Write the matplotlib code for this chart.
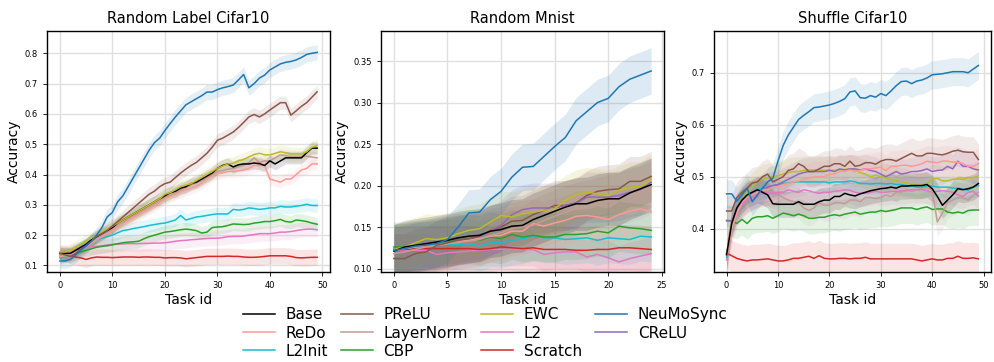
import numpy as np
import matplotlib
matplotlib.use("Agg")
import matplotlib.pyplot as plt

methods = ["Base", "ReDo", "L2Init", "PReLU", "LayerNorm", "CBP", "EWC", "L2", "Scratch", "NeuMoSync", "CReLU"]
colors = {"Base": "#000000", "ReDo": "#ff9896", "L2Init": "#17becf", "PReLU": "#8c564b",
          "LayerNorm": "#c49c94", "CBP": "#2ca02c", "EWC": "#bcbd22", "L2": "#e377c2",
          "Scratch": "#d62728", "NeuMoSync": "#1f77b4", "CReLU": "#9467bd"}

titles = ["Random Label Cifar10", "Random Mnist", "Shuffle Cifar10"]

# ---------------- Panel 1: Random Label Cifar10 (50 tasks) ----------------
rl_neumosync = [0.115, 0.115, 0.12, 0.135, 0.15, 0.165, 0.18, 0.2, 0.225, 0.26, 0.275, 0.31, 0.33, 0.36, 0.39,
                0.42, 0.45, 0.48, 0.505, 0.52, 0.545, 0.568, 0.59, 0.61, 0.63, 0.64, 0.65, 0.66, 0.672, 0.672,
                0.68, 0.686, 0.69, 0.695, 0.712, 0.73, 0.686, 0.70, 0.718, 0.728, 0.745, 0.755, 0.765, 0.77, 0.773,
                0.778, 0.786, 0.796, 0.8, 0.803]
rl_prelu = [0.14, 0.135, 0.13, 0.14, 0.155, 0.165, 0.18, 0.195, 0.205, 0.215, 0.23, 0.245, 0.26, 0.275, 0.29,
            0.305, 0.32, 0.335, 0.345, 0.36, 0.37, 0.375, 0.39, 0.405, 0.418, 0.43, 0.44, 0.455, 0.47, 0.49,
            0.513, 0.52, 0.53, 0.54, 0.555, 0.572, 0.59, 0.598, 0.59, 0.60, 0.613, 0.625, 0.637, 0.637, 0.596,
            0.61, 0.625, 0.637, 0.655, 0.673]
rl_base = [0.14, 0.14, 0.14, 0.15, 0.16, 0.17, 0.185, 0.195, 0.205, 0.215, 0.225, 0.24, 0.25, 0.26, 0.27,
           0.28, 0.29, 0.30, 0.31, 0.32, 0.33, 0.34, 0.345, 0.355, 0.36, 0.37, 0.375, 0.385, 0.395, 0.405,
           0.42, 0.43, 0.435, 0.425, 0.432, 0.435, 0.435, 0.438, 0.436, 0.43, 0.445, 0.435, 0.445, 0.455, 0.455,
           0.455, 0.455, 0.472, 0.487, 0.487]
rl_ewc = [0.145, 0.145, 0.15, 0.16, 0.17, 0.18, 0.19, 0.2, 0.21, 0.22, 0.23, 0.24, 0.25, 0.26, 0.27,
          0.28, 0.29, 0.30, 0.31, 0.32, 0.335, 0.34, 0.35, 0.36, 0.365, 0.37, 0.38, 0.39, 0.40, 0.41,
          0.42, 0.428, 0.435, 0.437, 0.445, 0.45, 0.458, 0.466, 0.47, 0.465, 0.465, 0.47, 0.475, 0.472, 0.468,
          0.468, 0.468, 0.475, 0.49, 0.495]
rl_layernorm = [0.135, 0.135, 0.14, 0.148, 0.158, 0.168, 0.18, 0.19, 0.2, 0.21, 0.22, 0.232, 0.243, 0.253, 0.263,
                0.273, 0.283, 0.293, 0.303, 0.313, 0.325, 0.333, 0.34, 0.348, 0.357, 0.365, 0.372, 0.38, 0.39, 0.4,
                0.41, 0.413, 0.418, 0.42, 0.425, 0.43, 0.44, 0.455, 0.44, 0.445, 0.445, 0.455, 0.465, 0.462, 0.46,
                0.46, 0.46, 0.46, 0.458, 0.455]
rl_redo = [0.13, 0.132, 0.135, 0.145, 0.155, 0.165, 0.175, 0.185, 0.195, 0.205, 0.215, 0.225, 0.237, 0.247, 0.257,
           0.267, 0.277, 0.287, 0.297, 0.307, 0.32, 0.328, 0.335, 0.343, 0.35, 0.355, 0.362, 0.372, 0.385, 0.395,
           0.405, 0.405, 0.41, 0.41, 0.412, 0.415, 0.42, 0.43, 0.43, 0.43, 0.385, 0.38, 0.375, 0.385, 0.385,
           0.40, 0.415, 0.42, 0.435, 0.435]
rl_l2init = [0.125, 0.13, 0.14, 0.15, 0.16, 0.17, 0.178, 0.185, 0.19, 0.195, 0.2, 0.208, 0.215, 0.218, 0.222,
             0.225, 0.228, 0.232, 0.235, 0.238, 0.24, 0.245, 0.25, 0.265, 0.25, 0.255, 0.26, 0.262, 0.265, 0.268,
             0.27, 0.27, 0.27, 0.285, 0.283, 0.285, 0.29, 0.288, 0.285, 0.287, 0.29, 0.29, 0.295, 0.293, 0.293,
             0.296, 0.298, 0.302, 0.298, 0.298]
rl_cbp = [0.13, 0.132, 0.135, 0.14, 0.145, 0.15, 0.155, 0.16, 0.163, 0.165, 0.168, 0.172, 0.175, 0.177, 0.178,
          0.18, 0.188, 0.195, 0.2, 0.205, 0.21, 0.212, 0.215, 0.218, 0.22, 0.218, 0.215, 0.207, 0.21, 0.225,
          0.227, 0.228, 0.232, 0.237, 0.236, 0.235, 0.236, 0.24, 0.242, 0.245, 0.245, 0.248, 0.252, 0.245, 0.243,
          0.25, 0.248, 0.245, 0.24, 0.236]
rl_l2 = [0.13, 0.138, 0.145, 0.15, 0.155, 0.16, 0.162, 0.163, 0.165, 0.168, 0.17, 0.17, 0.171, 0.172, 0.172,
         0.172, 0.173, 0.173, 0.174, 0.174, 0.175, 0.177, 0.18, 0.182, 0.183, 0.185, 0.186, 0.188, 0.189, 0.19,
         0.19, 0.192, 0.195, 0.196, 0.196, 0.197, 0.2, 0.202, 0.205, 0.205, 0.205, 0.207, 0.21, 0.21, 0.212,
         0.215, 0.218, 0.22, 0.22, 0.218]
rl_scratch = [0.14, 0.138, 0.133, 0.128, 0.125, 0.12, 0.125, 0.128, 0.127, 0.127, 0.126, 0.127, 0.128, 0.128, 0.128,
              0.127, 0.128, 0.128, 0.127, 0.127, 0.125, 0.126, 0.126, 0.125, 0.122, 0.124, 0.126, 0.128, 0.13, 0.13,
              0.13, 0.13, 0.131, 0.13, 0.13, 0.128, 0.127, 0.127, 0.128, 0.13, 0.132, 0.132, 0.132, 0.132, 0.13,
              0.126, 0.125, 0.126, 0.127, 0.127]
rl_std = {"NeuMoSync": 0.025, "PReLU": 0.022, "Base": 0.02, "EWC": 0.022, "LayerNorm": 0.02, "ReDo": 0.02,
          "L2Init": 0.022, "CBP": 0.022, "L2": 0.025, "Scratch": 0.027}

# ---------------- Panel 2: Random Mnist (25 tasks) ----------------
rm_neumosync = [0.122, 0.124, 0.127, 0.128, 0.13, 0.135, 0.15, 0.167, 0.168, 0.183, 0.193, 0.21, 0.222, 0.223,
                0.235, 0.247, 0.258, 0.278, 0.289, 0.3, 0.305, 0.319, 0.328, 0.333, 0.338]
rm_ewc = [0.123, 0.126, 0.131, 0.136, 0.135, 0.137, 0.142, 0.146, 0.148, 0.156, 0.164, 0.162, 0.166, 0.168,
          0.17, 0.172, 0.182, 0.189, 0.192, 0.19, 0.188, 0.194, 0.198, 0.199, 0.208]
rm_crelu = [0.123, 0.125, 0.127, 0.129, 0.132, 0.135, 0.137, 0.139, 0.141, 0.145, 0.152, 0.165, 0.171, 0.173,
            0.173, 0.173, 0.176, 0.178, 0.186, 0.186, 0.186, 0.188, 0.192, 0.195, 0.204]
rm_prelu = [0.112, 0.112, 0.118, 0.12, 0.128, 0.131, 0.134, 0.136, 0.139, 0.146, 0.15, 0.157, 0.158, 0.165,
            0.17, 0.176, 0.176, 0.179, 0.188, 0.193, 0.195, 0.196, 0.205, 0.205, 0.211]
rm_base = [0.121, 0.126, 0.128, 0.13, 0.132, 0.134, 0.137, 0.139, 0.14, 0.145, 0.147, 0.151, 0.152, 0.159,
           0.164, 0.169, 0.174, 0.178, 0.178, 0.182, 0.184, 0.184, 0.191, 0.196, 0.201]
rm_layernorm = [0.118, 0.12, 0.123, 0.126, 0.128, 0.13, 0.131, 0.133, 0.135, 0.14, 0.143, 0.148, 0.15, 0.152,
                0.158, 0.163, 0.168, 0.172, 0.174, 0.178, 0.181, 0.184, 0.188, 0.192, 0.198]
rm_redo = [0.122, 0.124, 0.126, 0.127, 0.128, 0.13, 0.133, 0.134, 0.136, 0.139, 0.14, 0.145, 0.145, 0.154,
           0.151, 0.155, 0.158, 0.163, 0.164, 0.162, 0.159, 0.165, 0.169, 0.172, 0.168]
rm_cbp = [0.126, 0.126, 0.128, 0.129, 0.131, 0.133, 0.135, 0.136, 0.134, 0.138, 0.136, 0.141, 0.138, 0.14,
          0.138, 0.138, 0.141, 0.141, 0.142, 0.145, 0.143, 0.151, 0.149, 0.148, 0.146]
rm_l2init = [0.124, 0.124, 0.126, 0.127, 0.128, 0.129, 0.129, 0.13, 0.127, 0.131, 0.131, 0.134, 0.136, 0.139,
             0.137, 0.137, 0.135, 0.136, 0.137, 0.134, 0.137, 0.136, 0.135, 0.139, 0.138]
rm_scratch = [0.123, 0.123, 0.124, 0.124, 0.124, 0.124, 0.124, 0.124, 0.123, 0.124, 0.126, 0.125, 0.124, 0.125,
              0.123, 0.123, 0.123, 0.122, 0.122, 0.123, 0.123, 0.125, 0.125, 0.124, 0.123]
rm_l2 = [0.122, 0.122, 0.122, 0.122, 0.117, 0.119, 0.12, 0.121, 0.122, 0.123, 0.123, 0.123, 0.123, 0.123,
         0.117, 0.119, 0.12, 0.12, 0.114, 0.117, 0.113, 0.108, 0.112, 0.115, 0.118]
rm_std = {"NeuMoSync": 0.028, "EWC": 0.03, "CReLU": 0.03, "PReLU": 0.03, "Base": 0.032, "LayerNorm": 0.032,
          "ReDo": 0.03, "CBP": 0.03, "L2Init": 0.03, "Scratch": 0.028, "L2": 0.02}

# ---------------- Panel 3: Shuffle Cifar10 (50 tasks) ----------------
sc_neumosync = [0.467, 0.467, 0.453, 0.465, 0.478, 0.452, 0.465, 0.478, 0.49, 0.497, 0.53, 0.56, 0.58, 0.595, 0.61,
                0.618, 0.625, 0.633, 0.634, 0.636, 0.638, 0.641, 0.645, 0.65, 0.663, 0.665, 0.652, 0.651, 0.656, 0.653,
                0.66, 0.656, 0.665, 0.675, 0.683, 0.684, 0.679, 0.684, 0.686, 0.69, 0.696, 0.697, 0.698, 0.7, 0.702,
                0.702, 0.702, 0.7, 0.707, 0.714]
sc_prelu = [0.434, 0.434, 0.46, 0.47, 0.478, 0.488, 0.49, 0.5, 0.505, 0.49, 0.495, 0.5, 0.512, 0.515, 0.525,
            0.52, 0.51, 0.51, 0.515, 0.52, 0.52, 0.525, 0.525, 0.52, 0.53, 0.52, 0.522, 0.527, 0.527, 0.524,
            0.53, 0.533, 0.533, 0.53, 0.535, 0.54, 0.545, 0.54, 0.54, 0.545, 0.545, 0.543, 0.542, 0.545, 0.549,
            0.551, 0.548, 0.547, 0.547, 0.533]
sc_redo = [0.35, 0.4, 0.43, 0.45, 0.46, 0.465, 0.47, 0.475, 0.475, 0.48, 0.48, 0.485, 0.487, 0.49, 0.492,
           0.495, 0.497, 0.5, 0.5, 0.5, 0.505, 0.505, 0.51, 0.51, 0.513, 0.51, 0.512, 0.515, 0.515, 0.517,
           0.518, 0.512, 0.52, 0.52, 0.522, 0.522, 0.52, 0.522, 0.525, 0.53, 0.528, 0.527, 0.53, 0.53, 0.528,
           0.528, 0.525, 0.52, 0.52, 0.525]
sc_crelu = [0.415, 0.415, 0.44, 0.45, 0.46, 0.465, 0.47, 0.475, 0.48, 0.483, 0.485, 0.49, 0.495, 0.5, 0.505,
            0.508, 0.51, 0.51, 0.51, 0.51, 0.512, 0.51, 0.515, 0.513, 0.515, 0.515, 0.513, 0.515, 0.512, 0.51,
            0.505, 0.5, 0.505, 0.51, 0.505, 0.507, 0.51, 0.51, 0.512, 0.515, 0.51, 0.512, 0.513, 0.52, 0.515,
            0.53, 0.52, 0.52, 0.515, 0.513]
sc_ewc = [0.35, 0.41, 0.44, 0.455, 0.47, 0.48, 0.49, 0.495, 0.498, 0.5, 0.502, 0.505, 0.508, 0.51, 0.51,
          0.512, 0.513, 0.513, 0.513, 0.512, 0.513, 0.512, 0.513, 0.514, 0.515, 0.512, 0.508, 0.505, 0.5, 0.503,
          0.5, 0.497, 0.495, 0.492, 0.49, 0.488, 0.485, 0.483, 0.485, 0.487, 0.495, 0.497, 0.492, 0.492, 0.495,
          0.496, 0.495, 0.498, 0.498, 0.502]
sc_l2init = [0.345, 0.41, 0.44, 0.455, 0.465, 0.47, 0.475, 0.478, 0.48, 0.482, 0.485, 0.487, 0.488, 0.49, 0.49,
             0.49, 0.49, 0.49, 0.49, 0.49, 0.488, 0.49, 0.49, 0.49, 0.492, 0.49, 0.487, 0.487, 0.486, 0.487,
             0.487, 0.486, 0.487, 0.485, 0.485, 0.483, 0.482, 0.48, 0.48, 0.482, 0.482, 0.48, 0.48, 0.48, 0.478,
             0.478, 0.476, 0.474, 0.48, 0.483]
sc_base = [0.35, 0.41, 0.44, 0.455, 0.465, 0.47, 0.475, 0.47, 0.465, 0.448, 0.447, 0.447, 0.447, 0.447, 0.452,
           0.447, 0.447, 0.447, 0.452, 0.455, 0.455, 0.462, 0.462, 0.468, 0.465, 0.463, 0.467, 0.47, 0.473, 0.475,
           0.477, 0.478, 0.48, 0.478, 0.482, 0.482, 0.483, 0.483, 0.483, 0.485, 0.477, 0.462, 0.445, 0.455, 0.465,
           0.477, 0.475, 0.477, 0.48, 0.487]
sc_l2 = [0.34, 0.4, 0.43, 0.445, 0.455, 0.46, 0.465, 0.468, 0.47, 0.468, 0.47, 0.47, 0.475, 0.472, 0.47,
         0.475, 0.473, 0.47, 0.468, 0.47, 0.47, 0.472, 0.473, 0.475, 0.474, 0.47, 0.468, 0.468, 0.47, 0.472,
         0.47, 0.47, 0.472, 0.472, 0.473, 0.473, 0.475, 0.475, 0.475, 0.473, 0.47, 0.472, 0.473, 0.472, 0.47,
         0.465, 0.462, 0.47, 0.472, 0.463]
sc_layernorm = [0.35, 0.41, 0.44, 0.455, 0.465, 0.47, 0.472, 0.475, 0.472, 0.47, 0.465, 0.46, 0.455, 0.452, 0.45,
                0.44, 0.435, 0.44, 0.45, 0.445, 0.445, 0.45, 0.45, 0.448, 0.455, 0.455, 0.452, 0.46, 0.46, 0.458,
                0.46, 0.465, 0.462, 0.47, 0.47, 0.475, 0.472, 0.475, 0.478, 0.478, 0.475, 0.413, 0.43, 0.45, 0.455,
                0.46, 0.46, 0.455, 0.465, 0.47]
sc_cbp = [0.416, 0.415, 0.41, 0.418, 0.41, 0.42, 0.423, 0.423, 0.425, 0.42, 0.425, 0.43, 0.428, 0.425, 0.428,
          0.425, 0.42, 0.42, 0.422, 0.422, 0.425, 0.427, 0.425, 0.428, 0.43, 0.432, 0.428, 0.43, 0.432, 0.432,
          0.435, 0.433, 0.435, 0.437, 0.44, 0.44, 0.44, 0.437, 0.44, 0.442, 0.437, 0.438, 0.438, 0.432, 0.43,
          0.432, 0.43, 0.435, 0.436, 0.436]
sc_scratch = [0.353, 0.348, 0.343, 0.34, 0.338, 0.34, 0.34, 0.341, 0.342, 0.34, 0.338, 0.338, 0.34, 0.343, 0.343,
              0.345, 0.347, 0.343, 0.348, 0.343, 0.342, 0.342, 0.343, 0.343, 0.342, 0.343, 0.343, 0.345, 0.342, 0.342,
              0.342, 0.342, 0.342, 0.342, 0.342, 0.342, 0.342, 0.34, 0.338, 0.34, 0.342, 0.34, 0.34, 0.343, 0.343,
              0.347, 0.343, 0.343, 0.344, 0.342]
sc_std = {"NeuMoSync": 0.027, "PReLU": 0.03, "ReDo": 0.03, "CReLU": 0.028, "EWC": 0.028, "L2Init": 0.02,
          "Base": 0.025, "L2": 0.025, "LayerNorm": 0.03, "CBP": 0.03, "Scratch": 0.03}

panels = [
    ({"Scratch": rl_scratch, "L2": rl_l2, "CBP": rl_cbp, "L2Init": rl_l2init, "ReDo": rl_redo,
      "LayerNorm": rl_layernorm, "Base": rl_base, "EWC": rl_ewc, "PReLU": rl_prelu, "NeuMoSync": rl_neumosync},
     rl_std, (0.079, 0.873), [0.1, 0.2, 0.3, 0.4, 0.5, 0.6, 0.7, 0.8], [0, 10, 20, 30, 40, 50], 0.12),
    ({"L2": rm_l2, "Scratch": rm_scratch, "L2Init": rm_l2init, "CBP": rm_cbp, "ReDo": rm_redo,
      "LayerNorm": rm_layernorm, "PReLU": rm_prelu, "CReLU": rm_crelu, "EWC": rm_ewc, "Base": rm_base,
      "NeuMoSync": rm_neumosync},
     rm_std, (0.096, 0.386), [0.10, 0.15, 0.20, 0.25, 0.30, 0.35], [0, 5, 10, 15, 20, 25], 0.15),
    ({"Scratch": sc_scratch, "CBP": sc_cbp, "LayerNorm": sc_layernorm, "L2": sc_l2, "L2Init": sc_l2init,
      "EWC": sc_ewc, "CReLU": sc_crelu, "ReDo": sc_redo, "PReLU": sc_prelu, "Base": sc_base,
      "NeuMoSync": sc_neumosync},
     sc_std, (0.317, 0.78), [0.4, 0.5, 0.6, 0.7], [0, 10, 20, 30, 40, 50], 0.12),
]

fig = plt.figure(figsize=(9.94, 3.62), dpi=100)
rects = [[0.0473, 0.249, 0.2847, 0.665], [0.3833, 0.249, 0.2847, 0.665], [0.7183, 0.249, 0.2787, 0.665]]
ytickfmt = ["{:.1f}", "{:.2f}", "{:.1f}"]

for i, (series, stds, ylim, yticks, xticks, alpha) in enumerate(panels):
    ax = fig.add_axes(rects[i])
    for name, vals in series.items():
        y = np.array(vals)
        x = np.arange(len(y))
        s = stds[name]
        ax.fill_between(x, y - s, y + s, color=colors[name], alpha=alpha, linewidth=0)
        ax.plot(x, y, color=colors[name], linewidth=1.1)
    ax.set_ylim(*ylim)
    ax.set_yticks(yticks)
    ax.set_yticklabels([ytickfmt[i].format(v) for v in yticks])
    ax.set_xticks(xticks)
    ax.margins(x=0.05)
    ax.grid(True, color="#e0e0e0", linewidth=1.0)
    ax.set_axisbelow(True)
    ax.tick_params(labelsize=6, length=3, width=0.6)
    ax.set_title(titles[i], fontsize=10.5)
    ax.set_xlabel("Task id", fontsize=10, labelpad=2)
    ax.set_ylabel("Accuracy", fontsize=10, labelpad=3)
    for sp in ax.spines.values():
        sp.set_linewidth(1.0)

handles = [plt.Line2D([], [], color=colors[m], linewidth=1.1) for m in methods]
fig.legend(handles, methods, loc="upper center", bbox_to_anchor=(0.488, 0.176), ncol=4, frameon=False,
           fontsize=11, handlelength=2.1, labelspacing=0.2, columnspacing=0.85, handletextpad=0.7,
           borderpad=0.1)

fig.savefig("out.png", dpi=100)
